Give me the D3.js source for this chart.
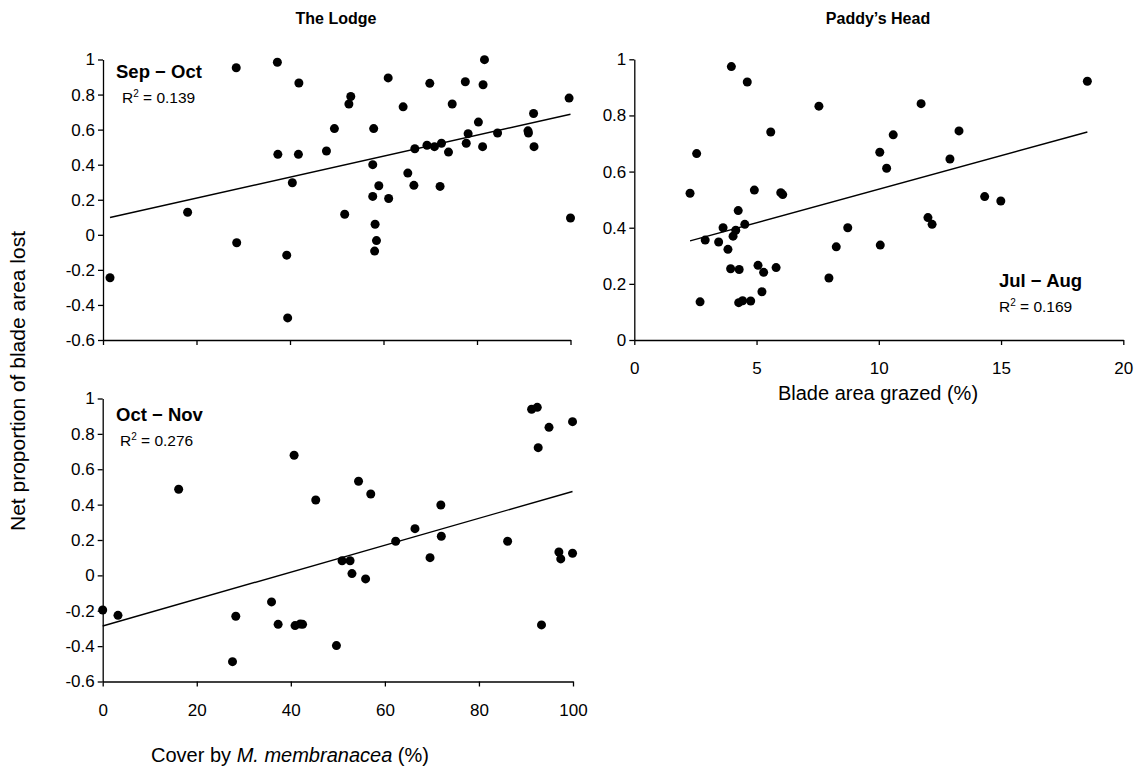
<!DOCTYPE html>
<html><head><meta charset="utf-8">
<script src="https://cdn.jsdelivr.net/npm/d3@7"></script>
<style>
body{margin:0;background:#fff}
text{font-family:"Liberation Sans",Arial,sans-serif;fill:#000}
</style>
</head><body>
<svg id="chart" width="1143" height="780"></svg>
<script>
// ---- Data ----
const panelTitles = ["The Lodge", "Paddy’s Head"];
const periodLabels = ["Sep − Oct", "Jul − Aug", "Oct − Nov"];
const r2Labels = ["0.139", "0.169", "0.276"];

// The Lodge, Sep–Oct: cover by M. membranacea (%) vs net proportion of blade area lost
const sepOctCover = [1.5,18.1,28.6,28.5,37.3,37.4,39.3,39.5,40.5,41.9,41.8,47.8,49.5,51.7,52.6,53.0,57.7,57.9,57.7,58.2,58.5,58.1,59.0,61.0,61.1,64.2,65.2,66.5,66.7,69.3,69.9,70.9,72.1,72.4,73.9,74.7,77.5,77.7,78.1,80.3,81.2,81.3,81.6,84.4,90.9,91.0,92.1,92.2,99.7,100];
const sepOctLoss  = [-0.245,0.129,-0.045,0.953,0.984,0.459,-0.116,-0.474,0.297,0.866,0.459,0.478,0.606,0.117,0.746,0.789,0.400,0.606,0.219,0.060,-0.033,-0.093,0.280,0.895,0.207,0.730,0.352,0.282,0.491,0.511,0.864,0.503,0.276,0.522,0.472,0.746,0.873,0.522,0.577,0.643,0.503,0.856,0.999,0.581,0.593,0.581,0.692,0.503,0.780,0.096];

// Paddy's Head, Jul–Aug: blade area grazed (%) vs net proportion lost
const julAugGrazed = [3.97,4.62,7.55,2.55,5.58,10.04,10.32,2.28,4.91,5.99,6.07,4.25,4.52,3.63,4.15,4.04,2.90,3.45,3.83,8.73,8.26,10.06,3.94,4.29,5.06,5.29,5.80,7.96,5.22,2.69,4.27,4.43,4.76,18.53,11.73,10.59,13.28,12.91,14.33,14.99,12.01,12.18];
const julAugLoss   = [0.974,0.919,0.833,0.664,0.741,0.669,0.612,0.523,0.534,0.525,0.518,0.461,0.412,0.400,0.391,0.370,0.356,0.349,0.323,0.400,0.332,0.338,0.254,0.251,0.266,0.241,0.258,0.221,0.172,0.136,0.133,0.140,0.139,0.922,0.842,0.731,0.745,0.645,0.511,0.495,0.436,0.412];

// The Lodge, Oct–Nov
const octNovCover = [0,3.25,16.15,27.6,28.3,35.9,37.3,40.7,40.9,42.0,42.5,45.3,49.7,50.9,52.6,53.0,54.4,55.9,57.0,62.3,66.4,69.6,71.9,72.0,86.1,91.2,92.4,92.6,93.3,94.9,97.0,97.4,99.9,99.9];
const octNovLoss  = [-0.196,-0.226,0.487,-0.488,-0.231,-0.150,-0.277,0.679,-0.284,-0.275,-0.277,0.426,-0.397,0.083,0.083,0.010,0.532,-0.020,0.460,0.193,0.264,0.100,0.398,0.221,0.193,0.939,0.950,0.722,-0.280,0.837,0.132,0.093,0.125,0.869];

// Fitted trend lines (intercept, slope)
const trendIntercepts = [0.090, 0.2985, -0.286];
const trendSlopes     = [0.00598, 0.02388, 0.00761];

// Tick values
const lodgeYTicks = [-0.6,-0.4,-0.2,0,0.2,0.4,0.6,0.8,1];
const coverXTicks = [0,20,40,60,80,100];
const paddyYTicks = [0,0.2,0.4,0.6,0.8,1];
const grazedXTicks = [0,5,10,15,20];

// ---- Drawing ----
const svg = d3.select("#chart");
const fmt = d => String(+(+d).toFixed(1));

const panels = [
  {xs: sepOctCover, ys: sepOctLoss, xd:[0,100], yd:[-0.6,1], xr:[103,570.5], yr:[340,59.5],
   xt: coverXTicks, yt: lodgeYTicks, xLabels:false, idx:0,
   lab:{x:116, y1:78, x2:122, y2:103}},
  {xs: julAugGrazed, ys: julAugLoss, xd:[0,20], yd:[0,1], xr:[634.3,1123.3], yr:[340,59.3],
   xt: grazedXTicks, yt: paddyYTicks, xLabels:true, idx:1,
   lab:{x:999, y1:286.5, x2:999, y2:311.5}},
  {xs: octNovCover, ys: octNovLoss, xd:[0,100], yd:[-0.6,1], xr:[102.7,573], yr:[681.5,398.5],
   xt: coverXTicks, yt: lodgeYTicks, xLabels:true, idx:2,
   lab:{x:116, y1:420.5, x2:120, y2:445.5}}
];

panels.forEach(p => {
  const x = d3.scaleLinear().domain(p.xd).range(p.xr);
  const y = d3.scaleLinear().domain(p.yd).range(p.yr);
  const g = svg.append("g");

  const xAxis = d3.axisBottom(x).tickValues(p.xt).tickSize(5).tickSizeOuter(0).tickPadding(17)
     .tickFormat(p.xLabels ? fmt : () => "");
  const gx = g.append("g").attr("transform", `translate(0,${p.yr[0]})`).call(xAxis);
  const yAxis = d3.axisLeft(y).tickValues(p.yt).tickSize(5).tickSizeOuter(0).tickPadding(3).tickFormat(fmt);
  const gy = g.append("g").attr("transform", `translate(${p.xr[0]},0)`).call(yAxis);
  [gx, gy].forEach(a => {
    a.selectAll("path,line").attr("stroke", "#000").attr("stroke-width", 1.3);
    a.selectAll("text").style("font-size", "17px").attr("fill", "#000");
  });

  // trend line across data range
  const x0 = d3.min(p.xs), x1 = d3.max(p.xs);
  const a0 = trendIntercepts[p.idx], b = trendSlopes[p.idx];
  g.append("line")
    .attr("x1", x(x0)).attr("y1", y(a0 + b * x0))
    .attr("x2", x(x1)).attr("y2", y(a0 + b * x1))
    .attr("stroke", "#000").attr("stroke-width", 1.4);

  g.selectAll("circle").data(p.xs.map((v, i) => [v, p.ys[i]])).join("circle")
    .attr("cx", d => x(d[0])).attr("cy", d => y(d[1])).attr("r", 4.5).attr("fill", "#000");

  g.append("text").attr("x", p.lab.x).attr("y", p.lab.y1)
    .style("font-size", "18.5px").style("font-weight", "bold").text(periodLabels[p.idx]);
  const r = g.append("text").attr("x", p.lab.x2).attr("y", p.lab.y2).style("font-size", "15.5px");
  r.append("tspan").text("R");
  r.append("tspan").attr("dy", "-6").style("font-size", "10px").text("2");
  r.append("tspan").attr("dy", "6").text(" = " + r2Labels[p.idx]);
});

// Titles
svg.append("text").attr("x", 336).attr("y", 24).attr("text-anchor", "middle")
  .style("font-size", "16px").style("font-weight", "bold").text(panelTitles[0]);
svg.append("text").attr("x", 878).attr("y", 24).attr("text-anchor", "middle")
  .style("font-size", "16px").style("font-weight", "bold").text(panelTitles[1]);

// Axis titles
svg.append("text").attr("transform", "translate(18,381) rotate(-90)").attr("text-anchor", "middle")
  .attr("dy", "0.35em").style("font-size", "21px").text("Net proportion of blade area lost");
svg.append("text").attr("x", 878).attr("y", 400).attr("text-anchor", "middle")
  .style("font-size", "20px").text("Blade area grazed (%)");
const ct = svg.append("text").attr("x", 290).attr("y", 762).attr("text-anchor", "middle").style("font-size", "20px");
ct.append("tspan").text("Cover by ");
ct.append("tspan").style("font-style", "italic").text("M. membranacea");
ct.append("tspan").text(" (%)");
</script>
</body></html>
